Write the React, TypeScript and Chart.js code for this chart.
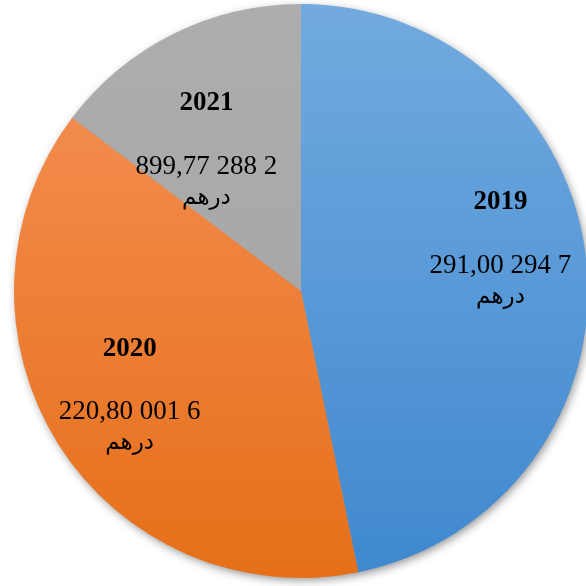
import React, { useEffect, useRef } from "react";
import { Chart, registerables } from "chart.js";
Chart.register(...registerables);

const categories = ["2019", "2020", "2021"];
const values = [7294291.0, 6001220.8, 2288899.77];
const valueLabels = ["291,00 294 7", "220,80 001 6", "899,77 288 2"];
const unitLabel = "درهم";
const gradientTop = ["#72AADF", "#F5925A", "#ADADAD"];
const gradientBottom = ["#3F88CF", "#E66F18", "#A3A3A3"];
const labelRadiusFraction = [0.71, 0.7, 0.59];
const labelAngleShiftDeg = [-6, 0.7, -7.5];

const shadowPlugin = {
  id: "pieShadow",
  beforeDatasetsDraw(chart: any) {
    const arc = chart.getDatasetMeta(0).data[0];
    if (!arc) return;
    const { x, y, outerRadius } = arc.getProps(["x", "y", "outerRadius"], true);
    const ctx = chart.ctx;
    ctx.save();
    ctx.shadowColor = "rgba(0,0,0,0.45)";
    ctx.shadowBlur = 10;
    ctx.shadowOffsetX = 2;
    ctx.shadowOffsetY = 3;
    ctx.fillStyle = "#999";
    ctx.beginPath();
    ctx.arc(x, y, outerRadius - 1, 0, Math.PI * 2);
    ctx.fill();
    ctx.restore();
  },
};

const labelPlugin = {
  id: "sliceLabels",
  afterDatasetsDraw(chart: any) {
    const ctx = chart.ctx;
    const meta = chart.getDatasetMeta(0);
    meta.data.forEach((arc: any, i: number) => {
      const { x, y, startAngle, endAngle, outerRadius } = arc.getProps(
        ["x", "y", "startAngle", "endAngle", "outerRadius"],
        true
      );
      const mid = (startAngle + endAngle) / 2 + (labelAngleShiftDeg[i] * Math.PI) / 180;
      const r = outerRadius * labelRadiusFraction[i];
      const cx = x + Math.cos(mid) * r;
      const cy = y + Math.sin(mid) * r;
      ctx.save();
      ctx.fillStyle = "#000";
      ctx.textAlign = "center";
      ctx.textBaseline = "middle";
      ctx.font = 'bold 27px "Liberation Serif", "Times New Roman", serif';
      ctx.fillText(categories[i], cx, cy - 47);
      ctx.font = '27px "Liberation Serif", "Times New Roman", serif';
      ctx.fillText(valueLabels[i], cx, cy + 16);
      ctx.font = '23px "Liberation Serif", "DejaVu Serif", "DejaVu Sans", serif';
      ctx.direction = "rtl";
      ctx.fillText(unitLabel, cx, cy + 47);
      ctx.restore();
    });
  },
};

export default function App() {
  const ref = useRef<HTMLCanvasElement | null>(null);
  useEffect(() => {
    if (!ref.current) return;
    const makeGradient = (ctx: any, area: any, i: number) => {
      const g = ctx.createLinearGradient(0, area.top, 0, area.bottom);
      g.addColorStop(0, gradientTop[i]);
      g.addColorStop(1, gradientBottom[i]);
      return g;
    };
    const chart = new Chart(ref.current, {
      type: "pie",
      data: {
        labels: categories,
        datasets: [
          {
            data: values,
            borderWidth: 0,
            backgroundColor: (c: any) => {
              const area = c.chart.chartArea;
              if (!area) return gradientTop[c.dataIndex];
              return makeGradient(c.chart.ctx, area, c.dataIndex);
            },
          },
        ],
      },
      options: {
        responsive: false,
        animation: false,
        layout: { padding: 10 },
        plugins: { legend: { display: false }, tooltip: { enabled: false } },
      },
      plugins: [shadowPlugin, labelPlugin],
    });
    return () => chart.destroy();
  }, []);
  return (
    <div style={{ position: "fixed", left: 4, top: -6, width: 594, height: 594 }}>
      <canvas ref={ref} width={594} height={594} style={{ display: "block" }} />
    </div>
  );
}
